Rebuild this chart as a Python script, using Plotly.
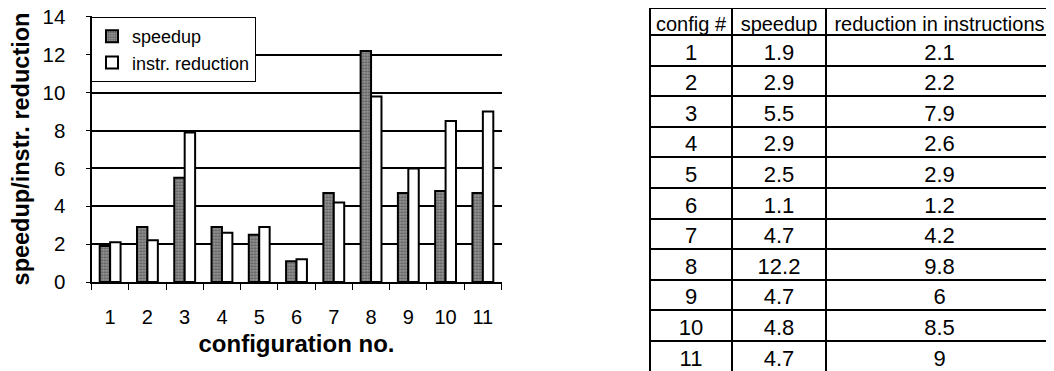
import plotly.graph_objects as go

configs = ["1", "2", "3", "4", "5", "6", "7", "8", "9", "10", "11"]
speedup = [1.9, 2.9, 5.5, 2.9, 2.5, 1.1, 4.7, 12.2, 4.7, 4.8, 4.7]
instr_reduction = [2.1, 2.2, 7.9, 2.6, 2.9, 1.2, 4.2, 9.8, 6, 8.5, 9]
y_ticks = [0, 2, 4, 6, 8, 10, 12, 14]
table_header = ["config #", "speedup", "reduction in instructions"]

W, H = 1054, 371
OFF = 8  # the page body margin shifts the figure by 8px
FONT = "Arial, Liberation Sans, sans-serif"
NB = "\u00a0"


def fx(px):
    return (px - OFF) / W


def fy(py):
    return 1 - (py - OFF) / H


fig = go.Figure()
fig.add_trace(go.Bar(
    x=configs, y=speedup, name="speedup",
    marker=dict(color="#6e6e6e", line=dict(color="black", width=2),
                pattern=dict(shape=".", fgcolor="#1e1e1e", bgcolor="#999999",
                             size=3, solidity=0.45)),
))
fig.add_trace(go.Bar(
    x=configs, y=instr_reduction, name="instr. reduction",
    marker=dict(color="white", line=dict(color="black", width=2)),
))

fig.add_trace(go.Table(
    domain=dict(x=[fx(650), fx(1053)], y=[0.0, 1.0]),
    columnwidth=[82, 94, 227],
    header=dict(values=[h.replace(" ", NB) for h in table_header], align="center", height=27,
                line=dict(color="black", width=2), fill=dict(color="white"),
                font=dict(family=FONT, size=20, color="black")),
    cells=dict(values=[configs, [str(v) for v in speedup], [str(v) for v in instr_reduction]],
               align="center", height=30.6,
               line=dict(color="black", width=2), fill=dict(color="white"),
               font=dict(family=FONT, size=22, color="black")),
))

fig.update_layout(
    width=W, height=H,
    margin=dict(l=0, r=0, t=0, b=0),
    paper_bgcolor="white", plot_bgcolor="white",
    barmode="group", bargap=0.44, bargroupgap=0,
    font=dict(family=FONT, color="black"),
    showlegend=True,
    legend=dict(x=fx(91), y=fy(17), xanchor="left", yanchor="top",
                bgcolor="white", bordercolor="black", borderwidth=1,
                font=dict(family=FONT, size=18, color="black"),
                tracegroupgap=2, itemwidth=30),
    xaxis=dict(domain=[fx(91.5), fx(501.5)], type="category", automargin=False,
               showline=True, linecolor="black", linewidth=2,
               ticks="outside", tickson="boundaries", ticklen=6, tickcolor="black",
               tickfont=dict(family=FONT, size=20, color="black"),
               ticklabelstandoff=16,
               title=dict(text="<b>configuration no.</b>", standoff=8,
                          font=dict(family=FONT, size=24, color="black")),
               showgrid=False, zeroline=False),
    yaxis=dict(domain=[fy(282), fy(16)], range=[0, 14.05], automargin=False,
               tickvals=y_ticks, showline=True, linecolor="black", linewidth=2,
               ticks="outside", ticklen=4, tickcolor="black",
               tickfont=dict(family=FONT, size=20.5, color="black"),
               ticklabelstandoff=16, ticklabeloverflow="allow",
               showgrid=True, gridcolor="black", gridwidth=1.5,
               zeroline=False,
               title=dict(text="<b>speedup/instr. reduction</b>", standoff=13,
                          font=dict(family=FONT, size=23.5, color="black"))),
)

fig.write_html("out.html")
